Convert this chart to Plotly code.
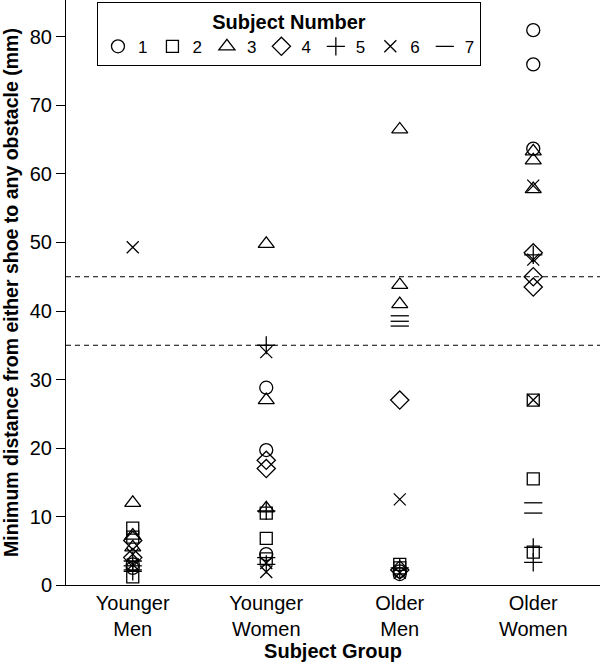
import plotly.graph_objects as go

groups = ["Younger Men", "Younger Women", "Older Men", "Older Women"]
group_labels = ["Younger<br>Men", "Younger<br>Women", "Older<br>Men", "Older<br>Women"]
subjects = ["1", "2", "3", "4", "5", "6", "7"]

# values per subject, per group (mm)
s1 = {"Younger Men": [3.0, 2.5], "Younger Women": [28.8, 19.7, 4.5],
      "Older Men": [2.0, 1.6], "Older Women": [81.0, 76.0, 63.7]}
s2 = {"Younger Men": [8.3, 7.0, 1.2], "Younger Women": [10.5, 6.8, 3.8],
      "Older Men": [3.0, 2.5], "Older Women": [27.0, 15.5, 4.8]}
s3 = {"Younger Men": [12.0, 7.2, 5.5], "Younger Women": [49.8, 27.0, 11.2],
      "Older Men": [66.5, 43.8, 41.0], "Older Women": [63.3, 62.0, 57.8]}
s4 = {"Younger Men": [6.5, 4.0], "Younger Women": [18.2, 17.0],
      "Older Men": [27.0, 2.2], "Older Women": [48.5, 45.0, 43.5]}
s5 = {"Younger Men": [3.5, 2.0], "Younger Women": [35.0, 10.8, 3.0],
      "Older Men": [2.5], "Older Women": [48.2, 5.5, 3.3]}
s6 = {"Younger Men": [49.3, 4.5, 3.0], "Younger Women": [34.0, 3.2, 1.9],
      "Older Men": [12.5, 1.8], "Older Women": [58.3, 47.5, 27.0]}
s7 = {"Younger Men": [2.8, 2.2], "Younger Women": [4.0],
      "Older Men": [39.3, 38.5, 37.8], "Older Women": [12.0, 10.5]}
subject_data = [s1, s2, s3, s4, s5, s6, s7]

threshold_lines = [35, 45]
y_ticks = [0, 10, 20, 30, 40, 50, 60, 70, 80]

symbols = ["circle-open", "square-open", "triangle-up-open", "diamond-open",
           "cross-thin-open", "x-thin-open", "line-ew-open"]
sizes = [13, 12, 14, 14, 13, 12, 13]

fig = go.Figure()
for name, data, sym, sz in zip(subjects, subject_data, symbols, sizes):
    xs, ys = [], []
    for gi, g in enumerate(groups):
        for v in data.get(g, []):
            xs.append(gi)
            ys.append(v)
    fig.add_trace(go.Scatter(
        x=xs, y=ys, mode="markers", name=name,
        marker=dict(symbol=sym, size=sz, color="black",
                    line=dict(color="black", width=1.3)),
    ))

for v in threshold_lines:
    fig.add_shape(type="line", xref="paper", x0=0, x1=1, yref="y", y0=v, y1=v,
                  line=dict(color="black", width=1, dash="5px,4px"))

fig.update_layout(
    width=600, height=662,
    margin=dict(l=66, r=0, t=0, b=77),
    paper_bgcolor="white", plot_bgcolor="white",
    font=dict(family="Liberation Sans, Arial, sans-serif", size=20, color="black"),
    legend=dict(
        orientation="h", x=0.058, y=0.997, xanchor="left", yanchor="top",
        bordercolor="black", borderwidth=1, bgcolor="white",
        title=dict(text="<b>Subject Number</b>", side="top center",
                   font=dict(size=20)),
        font=dict(size=17), itemwidth=30, tracegroupgap=0,
    ),
    xaxis=dict(
        range=[-0.5, 3.5], tickvals=[0, 1, 2, 3], ticktext=group_labels,
        showline=True, linecolor="black", linewidth=1, ticks="",
        showgrid=False, zeroline=False,
        title=dict(text="<b>Subject Group</b>", font=dict(size=20), standoff=8),
        tickfont=dict(size=20),
    ),
    yaxis=dict(
        range=[0, 85.4], tickvals=y_ticks,
        showline=True, linecolor="black", linewidth=1,
        ticks="outside", ticklen=9, tickcolor="black",
        showgrid=False, zeroline=False,
        title=dict(text="<b>Minimum distance from either shoe to any obstacle (mm)</b>",
                   font=dict(size=19.5), standoff=5),
        tickfont=dict(size=20),
    ),
)

fig.write_html("out.html", config={"displayModeBar": False},
               post_script="document.body.style.margin='0px';document.body.style.padding='0px';")
